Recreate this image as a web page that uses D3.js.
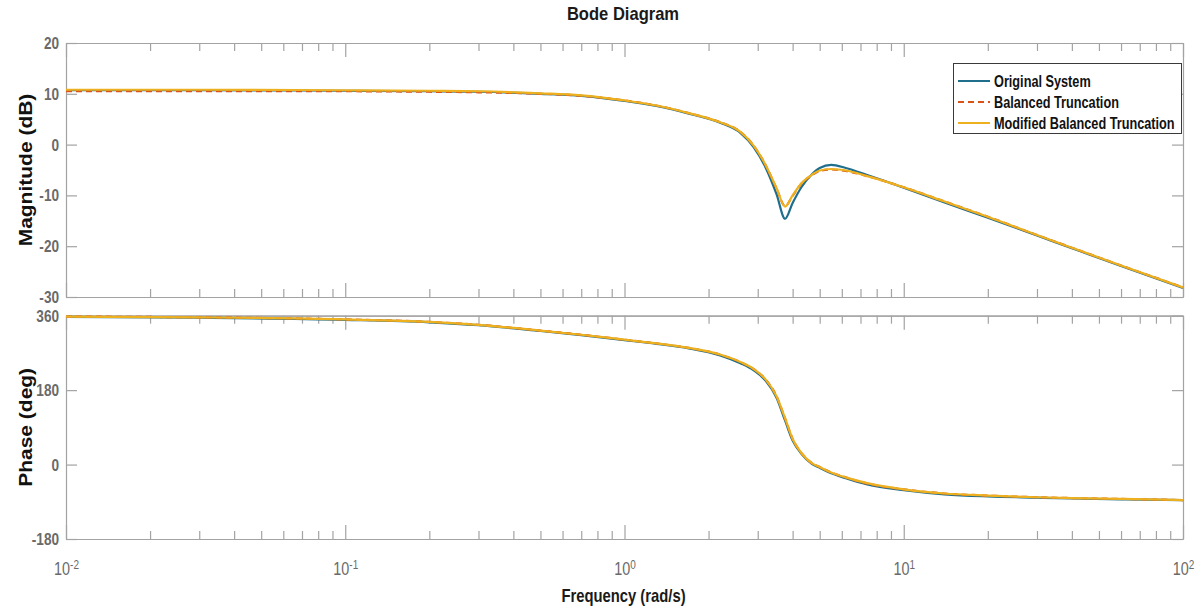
<!DOCTYPE html>
<html>
<head>
<meta charset="utf-8">
<script src="https://cdn.jsdelivr.net/npm/d3@7"></script>
<style>
  body { margin: 0; background: #fff; }
  svg { display: block; }
</style>
</head>
<body>
<svg id="chart" width="1203" height="615"></svg>
<script>
// Frequency grid (rad/s) shared by every response curve
const freq = [0.01, 0.03, 0.1, 0.2, 0.3, 0.5, 0.7, 1, 1.3, 1.7, 2.2, 2.6, 2.9, 3.2, 3.5, 3.76, 4.0, 4.3, 4.7, 5.0, 5.5, 6.2, 7.4, 10, 14, 20, 30, 40, 60, 100];

// Magnitude (dB)
const magOriginal = [10.7, 10.7, 10.6, 10.5, 10.4, 10.0, 9.6, 8.6, 7.6, 6.1, 4.3, 2.3, -0.5, -4.5, -9.7, -14.6, -11.5, -8.4, -5.8, -4.6, -4.0, -4.6, -6.0, -8.5, -11.4, -14.4, -17.9, -20.4, -23.9, -28.2];
const magBalanced = [10.5, 10.5, 10.5, 10.4, 10.3, 10.0, 9.6, 8.7, 7.7, 6.2, 4.4, 2.5, -0.2, -4.0, -8.6, -12.1, -10.1, -7.7, -6.0, -5.2, -4.9, -5.2, -6.2, -8.4, -11.2, -14.2, -17.8, -20.3, -23.8, -28.1];
const magModified = [10.8, 10.8, 10.7, 10.6, 10.5, 10.1, 9.7, 8.7, 7.7, 6.2, 4.4, 2.5, -0.2, -4.0, -8.5, -12.2, -10.0, -7.6, -5.9, -5.1, -4.8, -5.1, -6.2, -8.4, -11.2, -14.2, -17.8, -20.3, -23.8, -28.1];

// Phase (deg)
const phaseOriginal = [357, 355, 350, 344, 337, 323, 313, 301, 292, 281, 264, 245, 228, 203, 162, 106, 58, 26, 1, -8, -21, -33, -48, -62, -72, -77, -80, -82, -84, -86];
const phaseBalanced = [358, 356, 351, 345, 338, 324, 314, 302, 293, 282, 266, 248, 231, 206, 166, 111, 62, 28, 3, -6, -19, -31, -46, -60, -70, -75, -79, -81, -83, -86];
const phaseModified = [358, 356, 351, 345, 338, 324, 314, 302, 293, 282, 266, 248, 231, 206, 166, 112, 62, 28, 3, -6, -19, -31, -45, -60, -70, -75, -79, -81, -83, -86];

const seriesNames = ["Original System", "Balanced Truncation", "Modified Balanced Truncation"];
const seriesColors = ["#1f6e8c", "#D95319", "#EDB120"];
const seriesDash = [null, "6,4", null];

const magTicks = [20, 10, 0, -10, -20, -30];
const phaseTicks = [360, 180, 0, -180];
const decadeTicks = [0.01, 0.1, 1, 10, 100];
const decadeExponents = ["-2", "-1", "0", "1", "2"];

const FONT = "'Liberation Sans', Arial, sans-serif";
const SX = 0.8;          // horizontal squeeze applied to upright text
const AXIS_GRAY = "#a3a3a3";
const LABEL_GRAY = "#6a6a6a";

const svg = d3.select("#chart");

const left = 66, right = 1183;
const magTop = 43, magBottom = 297;
const phTop = 315.7, phBottom = 539;

const x = d3.scaleLog().domain([0.01, 100]).range([left, right]);
const yMag = d3.scaleLinear().domain([-30, 20]).range([magBottom, magTop]);
const yPh = d3.scaleLinear().domain([-180, 360]).range([phBottom, phTop]);

const minorTicks = [];
decadeTicks.slice(0, -1).forEach(d => { for (let k = 2; k <= 9; k++) minorTicks.push(d * k); });

function styleAxis(g) {
  g.select(".domain").attr("stroke", AXIS_GRAY).attr("stroke-width", 1.2);
  g.selectAll(".tick line").attr("stroke", AXIS_GRAY).attr("stroke-width", 1.2);
}

function frame(yScale, top, bottom, yTicks, withXLabels) {
  const g = svg.append("g");
  // x ticks, bottom edge (pointing up) and top edge (pointing down)
  [[bottom, d3.axisBottom], [top, d3.axisTop]].forEach(([yy, axisFn]) => {
    g.append("g").attr("transform", `translate(0,${yy})`)
      .call(axisFn(x).tickValues(minorTicks).tickSize(-8).tickSizeOuter(0).tickFormat(""))
      .call(styleAxis);
    const major = g.append("g").attr("transform", `translate(0,${yy})`)
      .call(axisFn(x).tickValues(decadeTicks).tickSize(-14).tickSizeOuter(0).tickFormat(""))
      .call(styleAxis);
    if (withXLabels && yy === bottom) {
      major.selectAll(".tick text").remove();
      major.selectAll(".tick").each(function (d, i) {
        const t = d3.select(this).append("text")
          .attr("transform", `translate(0,36) scale(${SX},1)`)
          .attr("text-anchor", "middle")
          .attr("fill", LABEL_GRAY)
          .style("font-family", FONT)
          .style("font-size", "18px");
        t.append("tspan").text("10");
        t.append("tspan").attr("dy", "-0.5em").style("font-size", "12.5px").text(decadeExponents[i]);
      });
    }
  });
  // y ticks, left edge with labels and right edge
  g.append("g").attr("transform", `translate(${left},0)`)
    .call(d3.axisLeft(yScale).tickValues(yTicks).tickSize(-11).tickSizeOuter(0).tickFormat(d => String(d)))
    .call(styleAxis)
    .call(a => a.selectAll(".tick text")
      .attr("x", null)
      .attr("transform", `translate(-7,0) scale(${SX},1)`)
      .attr("fill", LABEL_GRAY)
      .style("font-family", FONT)
      .style("font-weight", "bold")
      .style("font-size", "17px"));
  g.append("g").attr("transform", `translate(${right},0)`)
    .call(d3.axisRight(yScale).tickValues(yTicks).tickSize(-11).tickSizeOuter(0).tickFormat(""))
    .call(styleAxis);
}

frame(yMag, magTop, magBottom, magTicks, false);
frame(yPh, phTop, phBottom, phaseTicks, true);

// clip regions for the curves
const defs = svg.append("defs");
defs.append("clipPath").attr("id", "clipMag").append("rect")
  .attr("x", left).attr("y", magTop).attr("width", right - left).attr("height", magBottom - magTop);
defs.append("clipPath").attr("id", "clipPh").append("rect")
  .attr("x", left).attr("y", phTop - 2).attr("width", right - left).attr("height", phBottom - phTop + 2);

function drawCurves(values, yScale, clipId) {
  const g = svg.append("g").attr("clip-path", `url(#${clipId})`);
  values.forEach((vals, i) => {
    const pts = freq.map((f, j) => ({ f, v: vals[j] }));
    const line = d3.line().x(d => x(d.f)).y(d => yScale(d.v)).curve(d3.curveMonotoneX);
    g.append("path").datum(pts)
      .attr("d", line)
      .attr("fill", "none")
      .attr("stroke", seriesColors[i])
      .attr("stroke-width", 2.2)
      .attr("stroke-dasharray", seriesDash[i])
      .attr("stroke-linejoin", "round");
  });
}

drawCurves([magOriginal, magBalanced, magModified], yMag, "clipMag");
drawCurves([phaseOriginal, phaseBalanced, phaseModified], yPh, "clipPh");

// titles and axis labels
function upright(txt, cx, cy, size, weight, fill, sx) {
  svg.append("text")
    .attr("transform", `translate(${cx},${cy}) scale(${sx},1)`)
    .attr("text-anchor", "middle")
    .attr("fill", fill)
    .style("font-family", FONT)
    .style("font-weight", weight)
    .style("font-size", size + "px")
    .text(txt);
}
function vertical(txt, cx, cy) {
  svg.append("text")
    .attr("transform", `translate(${cx},${cy}) rotate(-90) scale(1.2,1)`)
    .attr("text-anchor", "middle")
    .attr("fill", "#111")
    .style("font-family", FONT)
    .style("font-weight", "bold")
    .style("font-size", "17.5px")
    .text(txt);
}

upright("Bode Diagram", 623, 20, 18, "bold", "#1a1a1a", 0.92);
upright("Frequency  (rad/s)", 623.5, 602, 18.5, "bold", "#1a1a1a", SX);
vertical("Magnitude (dB)", 32, (magTop + magBottom) / 2);
vertical("Phase (deg)", 32, (phTop + phBottom) / 2);

// legend
const lg = svg.append("g");
lg.append("rect").attr("x", 953.5).attr("y", 63.5).attr("width", 228).attr("height", 70)
  .attr("fill", "#fff").attr("stroke", "#3a3a3a").attr("stroke-width", 1);
seriesNames.forEach((name, i) => {
  const yy = 81 + i * 21;
  lg.append("line").attr("x1", 958).attr("x2", 990).attr("y1", yy).attr("y2", yy)
    .attr("stroke", seriesColors[i]).attr("stroke-width", 2)
    .attr("stroke-dasharray", seriesDash[i]);
  lg.append("text")
    .attr("transform", `translate(994,${yy + 6}) scale(0.77,1)`)
    .attr("fill", "#111")
    .style("font-family", FONT)
    .style("font-weight", "bold")
    .style("font-size", "16.5px")
    .text(name);
});
</script>
</body>
</html>
